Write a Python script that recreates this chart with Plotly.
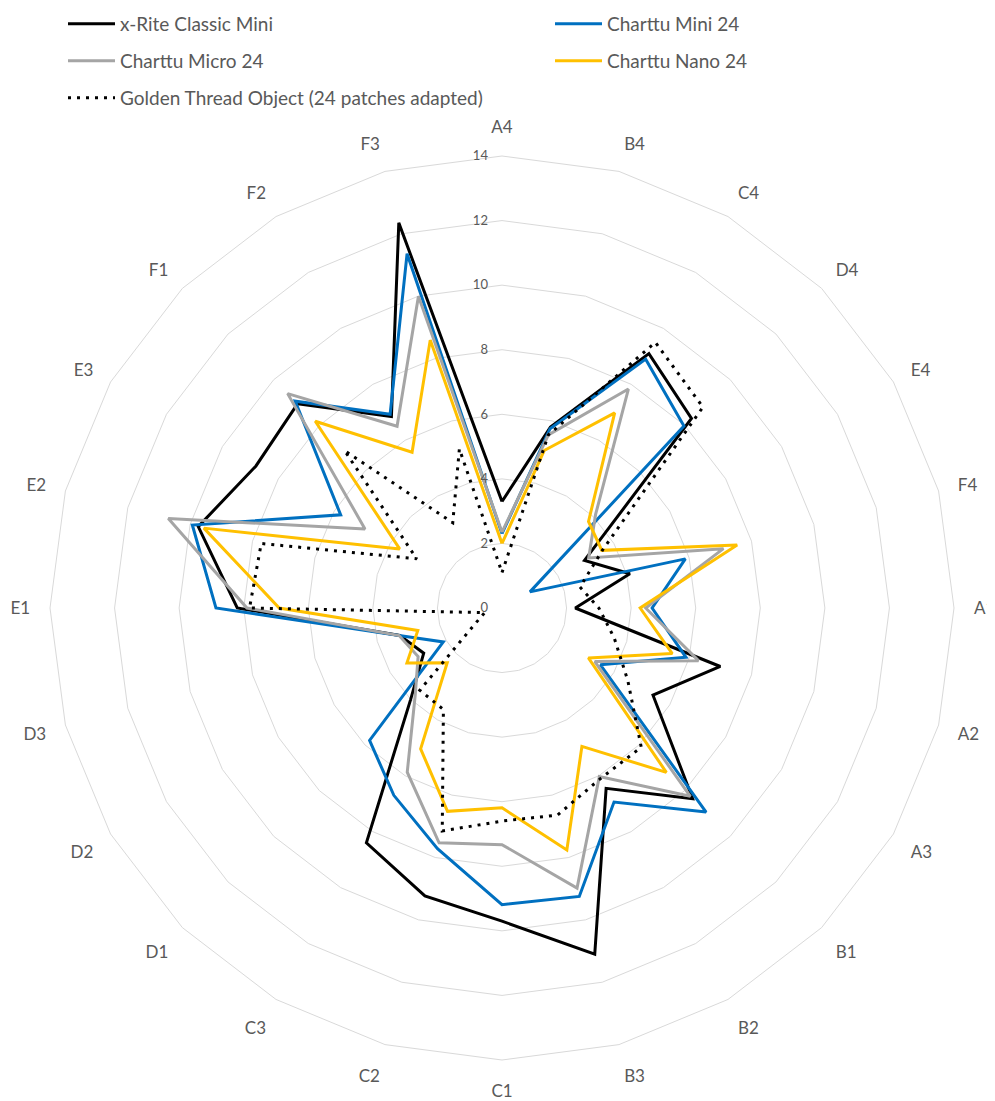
import plotly.graph_objects as go

categories = ["A4", "B4", "C4", "D4", "E4", "F4", "A1", "A2", "A3", "B1", "B2", "B3",
              "C1", "C2", "C3", "D1", "D2", "D3", "E1", "E2", "E3", "F1", "F2", "F3"]

xrite_classic_mini = [3.3, 5.8, 9.1, 8.3, 2.95, 4.1, 2.27, 7.0, 5.4, 8.35, 6.45, 11.1,
                      9.7, 9.23, 8.4, 4.0, 2.8, 3.28, 8.2, 9.74, 8.8, 8.95, 6.85, 12.35]
charttu_mini_24 = [2.3, 5.75, 8.9, 7.97, 1.0, 5.88, 4.65, 5.9, 3.52, 8.94, 6.94, 9.25,
                   9.19, 7.72, 6.7, 5.8, 2.1, 3.3, 8.86, 9.93, 5.77, 9.06, 6.93, 11.36]
charttu_micro_24 = [2.35, 5.55, 7.83, 4.1, 3.1, 7.1, 4.45, 6.3, 3.32, 8.25, 6.03, 8.98,
                    7.33, 7.53, 5.87, 3.8, 3.0, 3.3, 7.9, 10.7, 4.9, 9.39, 6.5, 10.0]
charttu_nano_24 = [2.0, 5.05, 6.98, 3.79, 3.57, 7.54, 4.28, 5.46, 3.09, 7.2, 4.95, 7.76,
                   6.19, 6.52, 5.04, 2.4, 3.4, 2.7, 6.9, 9.56, 3.66, 8.18, 5.57, 8.59]
golden_thread = [1.1, 5.55, 9.5, 8.8, 3.6, 2.5, 3.0, 3.6, 4.5, 6.1, 6.1, 6.64,
                 6.6, 7.15, 3.63, 3.6, 0.95, 0.55, 7.82, 7.72, 3.05, 6.9, 3.05, 5.1]

series = [
    ("x-Rite Classic Mini", xrite_classic_mini, "#000000", "solid", "legend"),
    ("Charttu Mini 24", charttu_mini_24, "#0070C0", "solid", "legend"),
    ("Charttu Micro 24", charttu_micro_24, "#A5A5A5", "solid", "legend2"),
    ("Charttu Nano 24", charttu_nano_24, "#FFC000", "solid", "legend2"),
    ("Golden Thread Object (24 patches adapted)", golden_thread, "#000000", "3px,6px", "legend3"),
]

FONT = "Lato, 'Open Sans', sans-serif"
TXT = "#595959"

fig = go.Figure()
for name, vals, color, dash, leg in series:
    fig.add_trace(go.Scatterpolar(
        r=vals + vals[:1],
        theta=categories + categories[:1],
        mode="lines",
        name=name,
        line=dict(color=color, width=3, dash=dash),
        legend=leg,
    ))

# the page body has an 8px margin; work in figure coordinates
OFF = 8
W, H = 995 - OFF, 1101 - OFF
cx, cy, R = 502 - OFF, 608 - OFF, 452

legend_common = dict(
    orientation="h", xanchor="left", yanchor="top",
    x=(63 - OFF) / W, entrywidth=425, entrywidthmode="pixels", itemwidth=47,
    font=dict(family=FONT, size=19, color=TXT), bgcolor="rgba(0,0,0,0)",
    borderwidth=0, tracegroupgap=0,
)

fig.update_layout(
    width=W, height=H, autosize=False,
    margin=dict(l=0, r=0, t=0, b=0, autoexpand=False),
    paper_bgcolor="white",
    font=dict(family=FONT, color=TXT),
    showlegend=True,
    legend=dict(legend_common, y=1 - (23 - OFF - 18) / H),
    legend2=dict(legend_common, y=1 - (60 - OFF - 18) / H),
    legend3=dict(legend_common, y=1 - (97 - OFF - 18) / H),
    polar=dict(
        domain=dict(x=[(cx - R) / W, (cx + R) / W],
                    y=[(H - cy - R) / H, (H - cy + R) / H]),
        bgcolor="white",
        gridshape="linear",
        angularaxis=dict(
            type="category", categoryorder="array", categoryarray=categories,
            rotation=90, direction="clockwise",
            showgrid=False, showline=True, linecolor="#D9D9D9", linewidth=1,
            ticks="outside", ticklen=16, tickcolor="rgba(0,0,0,0)",
            tickfont=dict(family=FONT, size=17, color=TXT),
        ),
        radialaxis=dict(
            range=[0, 14], dtick=2, tick0=0, angle=90, tickangle=90,
            showline=False, ticks="outside", ticklen=9, tickcolor="rgba(0,0,0,0)",
            gridcolor="#D9D9D9", gridwidth=1,
            side="counterclockwise",
            tickfont=dict(family=FONT, size=13, color=TXT),
        ),
    ),
)

fig.write_html("out.html")
